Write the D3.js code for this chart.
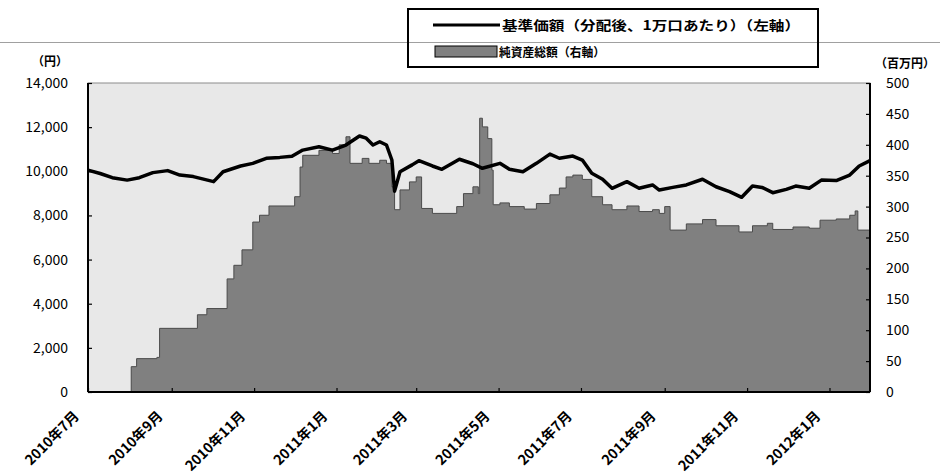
<!DOCTYPE html>
<html>
<head>
<meta charset="utf-8">
<script src="https://cdn.jsdelivr.net/npm/d3@7"></script>
<style>
  html, body { margin: 0; padding: 0; background: #ffffff; }
  svg { display: block; }
  text { font-family: "Noto Sans CJK JP", "Noto Sans", sans-serif; fill: #000; }
</style>
</head>
<body>
<svg id="chart" width="940" height="476"></svg>
<script>
// ---- Data ----
const navDates = ["2010-07-01","2010-07-10","2010-07-19","2010-07-30","2010-08-08","2010-08-18","2010-08-29","2010-09-07","2010-09-17","2010-10-02","2010-10-09","2010-10-22","2010-10-31","2010-11-10","2010-11-20","2010-11-29","2010-12-07","2010-12-19","2010-12-29","2011-01-08","2011-01-18","2011-01-23","2011-01-28","2011-02-02","2011-02-07","2011-02-11","2011-02-13","2011-02-17","2011-02-26","2011-03-03","2011-03-13","2011-03-20","2011-04-02","2011-04-12","2011-04-19","2011-05-02","2011-05-09","2011-05-19","2011-05-29","2011-06-08","2011-06-15","2011-06-25","2011-07-02","2011-07-09","2011-07-17","2011-07-24","2011-08-04","2011-08-13","2011-08-23","2011-08-28","2011-09-07","2011-09-17","2011-09-29","2011-10-09","2011-10-19","2011-10-28","2011-11-05","2011-11-12","2011-11-20","2011-11-30","2011-12-07","2011-12-17","2011-12-26","2012-01-06","2012-01-16","2012-01-23","2012-01-31"];
const navValues = [10050,9900,9710,9600,9710,9940,10030,9830,9760,9530,9980,10240,10360,10590,10630,10680,10960,11110,10960,11190,11600,11500,11190,11340,11190,10510,9100,9980,10290,10480,10240,10090,10545,10340,10135,10360,10090,9980,10360,10780,10590,10690,10510,9910,9640,9230,9530,9230,9380,9150,9270,9380,9640,9300,9080,8820,9330,9270,9030,9180,9330,9230,9600,9580,9830,10240,10480];

const assetDates = ["2010-07-01","2010-08-02","2010-08-06","2010-08-21","2010-08-23","2010-09-20","2010-09-27","2010-10-12","2010-10-17","2010-10-23","2010-10-31","2010-11-05","2010-11-12","2010-12-01","2010-12-05","2010-12-07","2010-12-19","2010-12-29","2011-01-03","2011-01-08","2011-01-11","2011-01-20","2011-01-25","2011-02-02","2011-02-07","2011-02-11","2011-02-13","2011-02-17","2011-02-24","2011-03-01","2011-03-05","2011-03-13","2011-03-31","2011-04-05","2011-04-12","2011-04-16","2011-04-17","2011-04-19","2011-04-23","2011-04-26","2011-04-27","2011-05-02","2011-05-09","2011-05-20","2011-05-29","2011-06-08","2011-06-15","2011-06-20","2011-06-25","2011-07-02","2011-07-09","2011-07-17","2011-07-24","2011-08-04","2011-08-13","2011-08-23","2011-08-28","2011-09-01","2011-09-05","2011-09-17","2011-09-29","2011-10-09","2011-10-26","2011-11-05","2011-11-16","2011-11-20","2011-12-05","2011-12-17","2011-12-25","2012-01-06","2012-01-16","2012-01-20","2012-01-22","2012-01-31"];
const assetValues = [0,41,54,56,103,125,135,183,205,230,275,286,301,316,364,383,391,386,400,413,370,378,370,375,370,332,295,327,340,348,297,289,300,321,332,321,443,429,410,359,303,306,300,296,305,319,330,348,351,344,316,303,295,301,292,295,289,300,262,272,279,269,259,269,273,263,267,265,278,280,286,293,262,267];

const xTickDates = ["2010-07-01","2010-09-01","2010-11-01","2011-01-01","2011-03-01","2011-05-01","2011-07-01","2011-09-01","2011-11-01","2012-01-01"];
const xTickLabels = ["2010年7月","2010年9月","2010年11月","2011年1月","2011年3月","2011年5月","2011年7月","2011年9月","2011年11月","2012年1月"];
const leftTicks = [0,2000,4000,6000,8000,10000,12000,14000];
const rightTicks = [0,50,100,150,200,250,300,350,400,450,500];
const legendLabels = ["基準価額（分配後、1万口あたり）（左軸）","純資産総額（右軸）"];
const leftUnit = "（円）";
const rightUnit = "（百万円）";

// ---- Layout ----
const parse = d3.timeParse("%Y-%m-%d");
const svg = d3.select("#chart");
const L = 88, R = 870, T = 83, B = 392;

const x = d3.scaleTime().domain([parse("2010-07-01"), parse("2012-01-31")]).range([L, R]);
const yL = d3.scaleLinear().domain([0, 14000]).range([B, T]);
const yR = d3.scaleLinear().domain([0, 500]).range([B, T]);

const nav = navDates.map((d, i) => ({ date: parse(d), v: navValues[i] }));
const assets = assetDates.map((d, i) => ({ date: parse(d), v: assetValues[i] }));

// thin gray line across the top
svg.append("line").attr("x1", 0).attr("x2", 940).attr("y1", 42.5).attr("y2", 42.5)
  .attr("stroke", "#a0a0a0").attr("stroke-width", 1);

// plot background
svg.append("rect").attr("x", L).attr("y", T).attr("width", R - L).attr("height", B - T)
  .attr("fill", "#e8e8e8").attr("stroke", "#8c8c8c").attr("stroke-width", 1);

// area of net assets
const area = d3.area().curve(d3.curveStepAfter)
  .x(d => x(d.date)).y0(B).y1(d => yR(d.v));
svg.append("path").datum(assets).attr("d", area).attr("fill", "#808080");
svg.append("path").datum(assets)
  .attr("d", d3.line().curve(d3.curveStepAfter).x(d => x(d.date)).y(d => yR(d.v)))
  .attr("fill", "none").attr("stroke", "#4a4a4a").attr("stroke-width", 1);

// NAV line
svg.append("path").datum(nav)
  .attr("d", d3.line().x(d => x(d.date)).y(d => yL(d.v)))
  .attr("fill", "none").attr("stroke", "#000").attr("stroke-width", 3.5)
  .attr("stroke-linejoin", "round");

// axes
const axL = d3.axisLeft(yL).tickValues(leftTicks).tickSize(-4).tickPadding(20)
  .tickFormat(d3.format(","));
const gL = svg.append("g").attr("transform", `translate(${L},0)`).call(axL);
const axR = d3.axisRight(yR).tickValues(rightTicks).tickSize(-4).tickPadding(16);
const gR = svg.append("g").attr("transform", `translate(${R},0)`).call(axR);
const axB = d3.axisBottom(x).tickValues(xTickDates.map(parse)).tickSize(-4).tickFormat("");
const gB = svg.append("g").attr("transform", `translate(0,${B})`).call(axB);

[gL, gR, gB].forEach(g => {
  g.select(".domain").attr("stroke", "#000").attr("stroke-width", 2);
  g.selectAll(".tick line").attr("stroke", "#000").attr("stroke-width", 1.2);
  g.selectAll("text").style("font-size", "14px")
    .style("font-family", "'Noto Sans CJK JP', sans-serif").attr("fill", "#000");
});
gL.select(".domain").attr("d", `M0,${T}V${B}`);
gR.select(".domain").attr("d", `M0,${T}V${B}`);
gB.select(".domain").attr("d", `M${L},0H${R}`);

// x labels rotated
svg.append("g").selectAll("text").data(xTickDates).join("text")
  .attr("transform", d => `translate(${x(parse(d)) - 8},${417}) rotate(-45)`)
  .attr("text-anchor", "end")
  .style("font-size", "14px").style("font-weight", "bold")
  .text((d, i) => xTickLabels[i]);

// units
svg.append("text").attr("x", 50).attr("y", 66).attr("text-anchor", "middle")
  .style("font-size", "12px").style("font-weight", "bold").text(leftUnit);
svg.append("text").attr("x", 905).attr("y", 68).attr("text-anchor", "middle")
  .style("font-size", "12px").style("font-weight", "bold").text(rightUnit);

// legend
const lg = svg.append("g");
lg.append("rect").attr("x", 408).attr("y", 9).attr("width", 410).attr("height", 58)
  .attr("fill", "none").attr("stroke", "#000").attr("stroke-width", 2);
lg.append("line").attr("x1", 433).attr("x2", 500).attr("y1", 25).attr("y2", 25)
  .attr("stroke", "#000").attr("stroke-width", 3);
lg.append("text").attr("x", 502).attr("y", 30)
  .attr("textLength", 298).attr("lengthAdjust", "spacingAndGlyphs")
  .style("font-size", "13px").style("font-weight", "bold").text(legendLabels[0]);
lg.append("rect").attr("x", 435).attr("y", 46).attr("width", 62).attr("height", 11)
  .attr("fill", "#808080").attr("stroke", "#000").attr("stroke-width", 1);
lg.append("text").attr("x", 499).attr("y", 57)
  .attr("textLength", 106).attr("lengthAdjust", "spacingAndGlyphs")
  .style("font-size", "12px").style("font-weight", "bold").text(legendLabels[1]);
</script>
</body>
</html>
